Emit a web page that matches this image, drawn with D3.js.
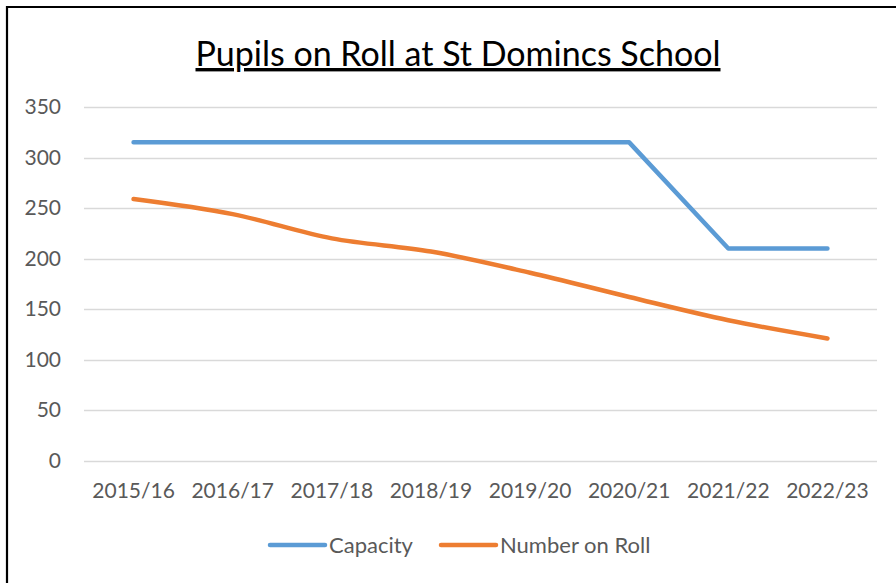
<!DOCTYPE html>
<html><head><meta charset="utf-8">
<script src="https://cdn.jsdelivr.net/npm/d3@7"></script>
<style>body{margin:0;background:#fff}svg{display:block}</style>
</head><body>
<svg id="c" width="896" height="583"></svg>
<script>
const categories = ["2015/16","2016/17","2017/18","2018/19","2019/20","2020/21","2021/22","2022/23"];
const capacity = [315,315,315,315,315,315,210,210];
const numberOnRoll = [259,244,220,207,186,162,139,121];
const yTicks = [0,50,100,150,200,250,300,350];
const seriesNames = ["Capacity","Number on Roll"];
const colors = ["#5B9BD5","#ED7D31"];

const svg = d3.select("#c");
const font = "Lato, 'Open Sans', sans-serif";
const W = 896, H = 583;
svg.append("rect").attr("width",W).attr("height",H).attr("fill","#fff");
// border (top + left visible)
svg.append("path").attr("d","M7,583 L7,7 L896,7").attr("fill","none").attr("stroke","#000").attr("stroke-width",2.2);

const x = d3.scaleBand().domain(categories).range([84,877]);
const y = d3.scaleLinear().domain([0,350]).range([460.7,107]);

// gridlines
svg.append("g").selectAll("line").data(yTicks).join("line")
  .attr("x1",84).attr("x2",877)
  .attr("y1",d=>Math.round(y(d))+0.5).attr("y2",d=>Math.round(y(d))+0.5)
  .attr("stroke","#D9D9D9").attr("stroke-width",1.3);

// y axis labels
const yAxis = d3.axisLeft(y).tickValues(yTicks).tickSize(0).tickPadding(23);
const gy = svg.append("g").attr("transform","translate(84,0)").call(yAxis);
gy.select(".domain").remove();
gy.selectAll("text").attr("font-family",font).attr("font-size",21).attr("fill","#595959");

// x axis labels
const xAxis = d3.axisBottom(x).tickSize(0).tickPadding(22);
const gx = svg.append("g").attr("transform","translate(0,460.7)").call(xAxis);
gx.select(".domain").remove();
gx.selectAll("text").attr("font-family",font).attr("font-size",21).attr("fill","#595959");

const cx = d => x(d) + x.bandwidth()/2;
const lineStraight = d3.line().x(d=>cx(d.c)).y(d=>y(d.v));
const lineSmooth = d3.line().x(d=>cx(d.c)).y(d=>y(d.v)).curve(d3.curveCatmullRom.alpha(0.5));

svg.append("path").datum(categories.map((c,i)=>({c,v:capacity[i]})))
  .attr("d",lineStraight).attr("fill","none").attr("stroke",colors[0])
  .attr("stroke-width",4.5).attr("stroke-linecap","round").attr("stroke-linejoin","round");
svg.append("path").datum(categories.map((c,i)=>({c,v:numberOnRoll[i]})))
  .attr("d",lineSmooth).attr("fill","none").attr("stroke",colors[1])
  .attr("stroke-width",4.5).attr("stroke-linecap","round").attr("stroke-linejoin","round");

// title
svg.append("text").attr("x",458).attr("y",66).attr("text-anchor","middle")
  .attr("font-family",font).attr("font-size",34).attr("fill","#000")
  .attr("text-decoration","underline")
  .text("Pupils on Roll at St Domincs School");

// legend
const legX = [270, 441];
const leg = svg.append("g").selectAll("g").data(seriesNames).join("g");
leg.append("line").attr("x1",(d,i)=>legX[i]).attr("x2",(d,i)=>legX[i]+55)
  .attr("y1",545).attr("y2",545).attr("stroke",(d,i)=>colors[i])
  .attr("stroke-width",4.5).attr("stroke-linecap","round");
leg.append("text").attr("x",(d,i)=>legX[i]+59).attr("y",553)
  .attr("font-family",font).attr("font-size",22).attr("fill","#595959").text(d=>d);
</script>
</body></html>
